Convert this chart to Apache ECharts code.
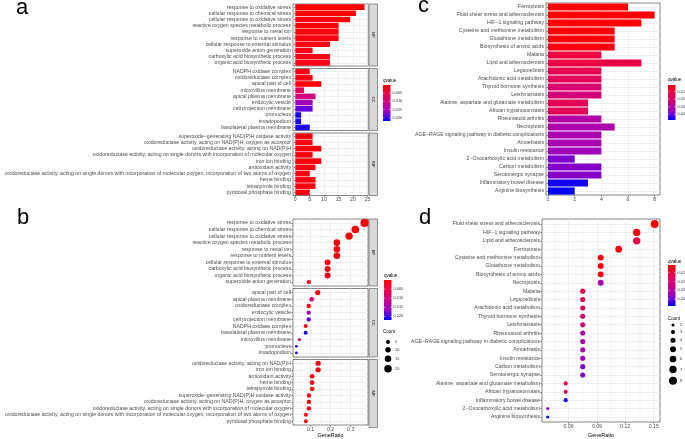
<!DOCTYPE html>
<html>
<head>
<meta charset="utf-8">
<script src="https://cdn.jsdelivr.net/npm/echarts@6/dist/echarts.min.js"></script>
<style>
html, body { margin: 0; padding: 0; background: #fff; }
#chart { width: 685px; height: 439px; }
</style>
</head>
<body>
<div id="chart"></div>
<script>
// Panel a - GO barplot
const A_BP_TERMS = ['response to oxidative stress', 'cellular response to chemical stress', 'cellular response to oxidative stress', 'reactive oxygen species metabolic process', 'response to metal ion', 'response to nutrient levels', 'cellular response to external stimulus', 'superoxide anion generation', 'carboxylic acid biosynthetic process', 'organic acid biosynthetic process'];
const A_BP_COUNT = [24, 21, 19, 15, 15, 15, 12, 6, 12, 12];
const A_BP_QVALUE = [0.0002, 0.0003, 0.0004, 0.0006, 0.0008, 0.001, 0.0012, 0.0015, 0.0015, 0.0015];

const A_CC_TERMS = ['NADPH oxidase complex', 'oxidoreductase complex', 'apical part of cell', 'microvillus membrane', 'apical plasma membrane', 'endocytic vesicle', 'cell projection membrane', 'pronucleus', 'invadopodium', 'basolateral plasma membrane'];
const A_CC_COUNT = [5, 6, 9, 3, 7, 6, 6, 2, 2, 5];
const A_CC_QVALUE = [0.0015, 0.0015, 0.0005, 0.0065, 0.0095, 0.0155, 0.0185, 0.0212, 0.0212, 0.021];

const A_MF_TERMS = ['superoxide\u2212generating NAD(P)H oxidase activity', 'oxidoreductase activity, acting on NAD(P)H, oxygen as acceptor', 'oxidoreductase activity, acting on NAD(P)H', 'oxidoreductase activity, acting on single donors with incorporation of molecular oxygen', 'iron ion binding', 'antioxidant activity', 'oxidoreductase activity, acting on single donors with incorporation of molecular oxygen, incorporation of two atoms of oxygen', 'heme binding', 'tetrapyrrole binding', 'pyridoxal phosphate binding'];
const A_MF_COUNT = [6, 6, 9, 6, 9, 7, 5, 7, 7, 5];
const A_MF_QVALUE = [0.001, 0.001, 0.0008, 0.001, 0.0008, 0.001, 0.0012, 0.001, 0.001, 0.0012];

// Panel b - GO dotplot
const B_BP_TERMS = ['response to oxidative stress', 'cellular response to chemical stress', 'cellular response to oxidative stress', 'reactive oxygen species metabolic process', 'response to metal ion', 'response to nutrient levels', 'cellular response to external stimulus', 'carboxylic acid biosynthetic process', 'organic acid biosynthetic process', 'superoxide anion generation'];
const B_BP_RATIO = [0.369, 0.323, 0.292, 0.231, 0.231, 0.231, 0.185, 0.185, 0.185, 0.092];
const B_BP_COUNT = [24, 21, 19, 15, 15, 15, 12, 12, 12, 6];
const B_BP_QVALUE = [0.0002, 0.0003, 0.0004, 0.0006, 0.0008, 0.001, 0.0012, 0.0015, 0.0015, 0.0015];

const B_CC_TERMS = ['apical part of cell', 'apical plasma membrane', 'oxidoreductase complex', 'endocytic vesicle', 'cell projection membrane', 'NADPH oxidase complex', 'basolateral plasma membrane', 'microvillus membrane', 'pronucleus', 'invadopodium'];
const B_CC_RATIO = [0.136, 0.106, 0.091, 0.091, 0.091, 0.076, 0.076, 0.045, 0.030, 0.030];
const B_CC_COUNT = [9, 7, 6, 6, 6, 5, 5, 3, 2, 2];
const B_CC_QVALUE = [0.0005, 0.0095, 0.0015, 0.0155, 0.0185, 0.0015, 0.021, 0.0065, 0.0212, 0.0212];

const B_MF_TERMS = ['oxidoreductase activity, acting on NAD(P)H', 'iron ion binding', 'antioxidant activity', 'heme binding', 'tetrapyrrole binding', 'superoxide\u2212generating NAD(P)H oxidase activity', 'oxidoreductase activity, acting on NAD(P)H, oxygen as acceptor', 'oxidoreductase activity, acting on single donors with incorporation of molecular oxygen', 'oxidoreductase activity, acting on single donors with incorporation of molecular oxygen, incorporation of two atoms of oxygen', 'pyridoxal phosphate binding'];
const B_MF_RATIO = [0.138, 0.138, 0.108, 0.108, 0.108, 0.092, 0.092, 0.092, 0.077, 0.077];
const B_MF_COUNT = [9, 9, 7, 7, 7, 6, 6, 6, 5, 5];
const B_MF_QVALUE = [0.0008, 0.0008, 0.001, 0.001, 0.001, 0.001, 0.001, 0.001, 0.0012, 0.0012];

// Panel c - KEGG barplot
const C_TERMS = ['Ferroptosis', 'Fluid shear stress and atherosclerosis', 'HIF\u22121 signaling pathway', 'Cysteine and methionine metabolism', 'Glutathione metabolism', 'Biosynthesis of amino acids', 'Malaria', 'Lipid and atherosclerosis', 'Legionellosis', 'Arachidonic acid metabolism', 'Thyroid hormone synthesis', 'Leishmaniasis', 'Alanine, aspartate and glutamate metabolism', 'African trypanosomiasis', 'Rheumatoid arthritis', 'Necroptosis', 'AGE\u2212RAGE signaling pathway in diabetic complications', 'Amoebiasis', 'Insulin resistance', '2\u2212Oxocarboxylic acid metabolism', 'Carbon metabolism', 'Serotonergic synapse', 'Inflammatory bowel disease', 'Arginine biosynthesis'];
const C_COUNT = [6, 8, 7, 5, 5, 5, 4, 7, 4, 4, 4, 4, 3, 3, 4, 5, 4, 4, 4, 2, 4, 4, 3, 2];
const C_QVALUE = [0.002, 0.0016, 0.002, 0.003, 0.003, 0.0035, 0.0107, 0.0116, 0.013, 0.0144, 0.019, 0.021, 0.014, 0.014, 0.030, 0.0314, 0.0323, 0.0323, 0.0346, 0.0383, 0.0374, 0.0374, 0.046, 0.0475];

// Panel d - KEGG dotplot
const D_TERMS = ['Fluid shear stress and atherosclerosis', 'HIF\u22121 signaling pathway', 'Lipid and atherosclerosis', 'Ferroptosis', 'Cysteine and methionine metabolism', 'Glutathione metabolism', 'Biosynthesis of amino acids', 'Necroptosis', 'Malaria', 'Legionellosis', 'Arachidonic acid metabolism', 'Thyroid hormone synthesis', 'Leishmaniasis', 'Rheumatoid arthritis', 'AGE\u2212RAGE signaling pathway in diabetic complications', 'Amoebiasis', 'Insulin resistance', 'Carbon metabolism', 'Serotonergic synapse', 'Alanine, aspartate and glutamate metabolism', 'African trypanosomiasis', 'Inflammatory bowel disease', '2\u2212Oxocarboxylic acid metabolism', 'Arginine biosynthesis'];
const D_RATIO = [0.151, 0.132, 0.132, 0.113, 0.094, 0.094, 0.094, 0.094, 0.075, 0.075, 0.075, 0.075, 0.075, 0.075, 0.075, 0.075, 0.075, 0.075, 0.075, 0.057, 0.057, 0.057, 0.038, 0.038];
const D_COUNT = [8, 7, 7, 6, 5, 5, 5, 5, 4, 4, 4, 4, 4, 4, 4, 4, 4, 4, 4, 3, 3, 3, 2, 2];
const D_QVALUE = [0.0016, 0.002, 0.0116, 0.002, 0.003, 0.003, 0.0035, 0.0314, 0.0107, 0.013, 0.0144, 0.019, 0.021, 0.030, 0.0323, 0.0323, 0.0346, 0.0374, 0.0374, 0.014, 0.014, 0.046, 0.0383, 0.0475];

// Legend ticks
const GO_Q_TICKS = [0.005, 0.010, 0.015, 0.020];
const KEGG_Q_TICKS = [0.01, 0.02, 0.03, 0.04];
const GO_COUNT_KEYS = [5, 10, 15, 20];
const KEGG_COUNT_KEYS = [2, 3, 4, 5, 6, 7, 8];

// Estilo (ggplot theme_bw)
const FONT = '"Liberation Sans", Arial, sans-serif';
const AXIS_TEXT = '#4D4D4D';
const DARK = '#333333';
const GRID_COLOR = '#EBEBEB';
const Q_COLORS = ['#FF0000', '#E80050', '#CA0089', '#9A00C3', '#0000FF'];
const GO_Q_RANGE = [0, 0.022];
const KEGG_Q_RANGE = [0.0015, 0.0475];
const LABEL_SIZE = 5.2;

const sizeGO = c => 0.5 + 1.565 * Math.sqrt(c);
const sizeKEGG = c => -2 + 3.54 * Math.sqrt(c);

const grids = [], xAxes = [], yAxes = [], seriesList = [], elements = [];

function addFacet(box, xs, showX, xFmt, xName, nameGap) {
    const gi = grids.length;
    grids.push({
        left: box[0], top: box[1], width: box[2] - box[0], height: box[3] - box[1],
        show: true, borderColor: DARK, borderWidth: 0.6, backgroundColor: '#FFFFFF'
    });
    // minor grid lines
    xAxes.push({
        gridIndex: gi, type: 'value', position: 'bottom', min: xs.min, max: xs.max,
        axisLine: { show: false },
        axisTick: { show: false, customValues: xs.minor },
        axisLabel: { show: false, customValues: xs.minor },
        splitLine: { show: true, lineStyle: { color: GRID_COLOR, width: 0.4 } }
    });
    xAxes.push({
        gridIndex: gi, type: 'value', position: 'bottom', min: xs.min, max: xs.max,
        axisLine: { show: false },
        axisTick: { show: showX, length: 1.6, customValues: xs.major, lineStyle: { color: DARK, width: 0.6 } },
        axisLabel: { show: showX, customValues: xs.major, margin: 2, fontSize: LABEL_SIZE, color: AXIS_TEXT, fontFamily: FONT, formatter: xFmt },
        splitLine: { show: true, lineStyle: { color: GRID_COLOR, width: 0.8 } },
        name: xName || '', nameLocation: 'middle', nameGap: nameGap || 0,
        nameTextStyle: { fontSize: 5.4, color: '#000', fontFamily: FONT, verticalAlign: 'top' }
    });
    return { gi: gi, xi: xAxes.length - 1 };
}

function addBarFacet(box, terms, counts, qvals, xs, showX) {
    const f = addFacet(box, xs, showX, v => String(v));
    yAxes.push({
        gridIndex: f.gi, type: 'category', inverse: true, data: terms,
        axisLine: { show: false },
        axisTick: { show: true, alignWithLabel: true, interval: 0, length: 1.6, lineStyle: { color: DARK, width: 0.6 } },
        axisLabel: { interval: 0, margin: 2, fontSize: LABEL_SIZE, color: AXIS_TEXT, fontFamily: FONT },
        splitLine: { show: true, alignWithLabel: true, interval: 0, lineStyle: { color: GRID_COLOR, width: 0.8 } }
    });
    seriesList.push({
        type: 'bar', xAxisIndex: f.xi, yAxisIndex: yAxes.length - 1,
        barWidth: '90%', encode: { x: 0, y: 1 },
        data: counts.map((c, i) => [c, i, qvals[i]])
    });
}

function addDotFacet(box, terms, ratios, counts, qvals, xs, showX, xFmt, sizeFn, nameGap) {
    const f = addFacet(box, xs, showX, xFmt, showX ? 'GeneRatio' : '', nameGap);
    const rows = terms.map((t, i) => i + 1);
    yAxes.push({
        gridIndex: f.gi, type: 'value', inverse: true, min: 0.4, max: terms.length + 0.6,
        axisLine: { show: false },
        axisTick: { show: true, length: 1.6, customValues: rows, lineStyle: { color: DARK, width: 0.6 } },
        axisLabel: { customValues: rows, formatter: v => terms[Math.round(v) - 1], margin: 2, fontSize: LABEL_SIZE, color: AXIS_TEXT, fontFamily: FONT },
        splitLine: { show: true, lineStyle: { color: GRID_COLOR, width: 0.8 } }
    });
    seriesList.push({
        type: 'scatter', xAxisIndex: f.xi, yAxisIndex: yAxes.length - 1,
        data: ratios.map((r, i) => [r, i + 1, qvals[i], counts[i]]),
        symbolSize: v => sizeFn(v[3]),
        itemStyle: { opacity: 1 }
    });
}

function addStrip(x, box, label) {
    elements.push({
        type: 'rect', shape: { x: x, y: box[1], width: 8.5, height: box[3] - box[1] },
        style: { fill: '#D9D9D9', stroke: DARK, lineWidth: 0.5 }
    });
    elements.push({
        type: 'text', x: x + 4.25, y: (box[1] + box[3]) / 2, rotation: -Math.PI / 2,
        style: { text: label, fontSize: 4.3, fill: '#1A1A1A', fontFamily: FONT, align: 'center', verticalAlign: 'middle' }
    });
}

function addQLegend(x, titleY, top, h, range, ticks, fmt) {
    elements.push({
        type: 'text', x: x, y: titleY,
        style: { text: 'qvalue', fontSize: 4.5, fill: '#000', fontFamily: FONT, align: 'left', verticalAlign: 'middle' }
    });
    elements.push({
        type: 'rect', shape: { x: x, y: top, width: 7.5, height: h },
        style: {
            fill: new echarts.graphic.LinearGradient(0, 0, 0, 1,
                Q_COLORS.map((c, i) => ({ offset: i / (Q_COLORS.length - 1), color: c })))
        }
    });
    ticks.forEach(t => {
        const y = top + (t - range[0]) / (range[1] - range[0]) * h;
        elements.push({ type: 'line', shape: { x1: x, y1: y, x2: x + 1.5, y2: y }, style: { stroke: '#fff', lineWidth: 0.5 } });
        elements.push({ type: 'line', shape: { x1: x + 6, y1: y, x2: x + 7.5, y2: y }, style: { stroke: '#fff', lineWidth: 0.5 } });
        elements.push({
            type: 'text', x: x + 9.5, y: y,
            style: { text: fmt(t), fontSize: 3.9, fill: '#333', fontFamily: FONT, align: 'left', verticalAlign: 'middle' }
        });
    });
}

function addCountLegend(x, titleY, firstY, keys, sizeFn, gap, labelX) {
    elements.push({
        type: 'text', x: x, y: titleY,
        style: { text: 'Count', fontSize: 4.5, fill: '#000', fontFamily: FONT, align: 'left', verticalAlign: 'middle' }
    });
    let y = firstY;
    keys.forEach((k, i) => {
        if (i > 0) y += (sizeFn(keys[i - 1]) + sizeFn(k)) / 2 + gap;
        elements.push({ type: 'circle', shape: { cx: x + 5, cy: y, r: sizeFn(k) / 2 }, style: { fill: '#000' } });
        elements.push({
            type: 'text', x: labelX, y: y,
            style: { text: String(k), fontSize: 3.9, fill: '#333', fontFamily: FONT, align: 'left', verticalAlign: 'middle' }
        });
    });
}

function addLetter(txt, x, y) {
    elements.push({
        type: 'text', x: x, y: y,
        style: { text: txt, fontSize: 22, fill: '#000', fontFamily: FONT, align: 'left', verticalAlign: 'middle' }
    });
}

// Painel a
const A_X = { min: -0.8, max: 25.2, major: [0, 5, 10, 15, 20, 25], minor: [2.5, 7.5, 12.5, 17.5, 22.5] };
const A_BOX = [[293, 4, 368, 66], [293, 68.5, 368, 130.5], [293, 133, 368, 195.5]];
addBarFacet(A_BOX[0], A_BP_TERMS, A_BP_COUNT, A_BP_QVALUE, A_X, false);
addBarFacet(A_BOX[1], A_CC_TERMS, A_CC_COUNT, A_CC_QVALUE, A_X, false);
addBarFacet(A_BOX[2], A_MF_TERMS, A_MF_COUNT, A_MF_QVALUE, A_X, true);

// Painel b
const B_X = { min: 0.013, max: 0.386, major: [0.1, 0.2, 0.3], minor: [0.05, 0.15, 0.25, 0.35] };
const B_BOX = [[293, 219, 368, 286], [293, 288.5, 368, 357], [293, 359.5, 368, 427.5]];
const fmt1 = v => v.toFixed(1);
addDotFacet(B_BOX[0], B_BP_TERMS, B_BP_RATIO, B_BP_COUNT, B_BP_QVALUE, B_X, false, fmt1, sizeGO);
addDotFacet(B_BOX[1], B_CC_TERMS, B_CC_RATIO, B_CC_COUNT, B_CC_QVALUE, B_X, false, fmt1, sizeGO);
addDotFacet(B_BOX[2], B_MF_TERMS, B_MF_RATIO, B_MF_COUNT, B_MF_QVALUE, B_X, true, fmt1, sizeGO, 8);

// Painel c
const C_X = { min: -0.15, max: 8.4, major: [0, 2, 4, 6, 8], minor: [1, 3, 5, 7] };
addBarFacet([546, 3, 660, 195], C_TERMS, C_COUNT, C_QVALUE, C_X, true);

// Painel d
const D_X = { min: 0.032, max: 0.1566, major: [0.06, 0.09, 0.12, 0.15], minor: [0.045, 0.075, 0.105, 0.135] };
addDotFacet([542, 219, 660, 423], D_TERMS, D_RATIO, D_COUNT, D_QVALUE, D_X, true, v => v.toFixed(2), sizeKEGG, 11);

// Faixas BP / CC / MF
['BP', 'CC', 'MF'].forEach((s, i) => { addStrip(369, A_BOX[i], s); addStrip(369, B_BOX[i], s); });

// Legendas
const fmt3 = v => v.toFixed(3);
const fmt2 = v => v.toFixed(2);
addQLegend(383, 81, 85, 36, GO_Q_RANGE, GO_Q_TICKS, fmt3);
addQLegend(384, 276, 280, 40, GO_Q_RANGE, GO_Q_TICKS, fmt3);
addCountLegend(383, 332, 342, GO_COUNT_KEYS, sizeGO, 3, 395);
addQLegend(668, 80, 85, 35, KEGG_Q_RANGE, KEGG_Q_TICKS, fmt2);
addQLegend(668, 262, 265, 41, KEGG_Q_RANGE, KEGG_Q_TICKS, fmt2);
addCountLegend(668, 319, 325, KEGG_COUNT_KEYS, sizeKEGG, 3.5, 680);

// Letras dos painéis
addLetter('a', 16, 8);
addLetter('b', 17, 218);
addLetter('c', 418, 6);
addLetter('d', 419, 218);

const chart = echarts.init(document.getElementById('chart'));
chart.setOption({
    animation: false,
    backgroundColor: '#FFFFFF',
    grid: grids,
    xAxis: xAxes,
    yAxis: yAxes,
    visualMap: [
        { type: 'continuous', show: false, dimension: 2, min: GO_Q_RANGE[0], max: GO_Q_RANGE[1], seriesIndex: [0, 1, 2, 3, 4, 5], inRange: { color: Q_COLORS } },
        { type: 'continuous', show: false, dimension: 2, min: KEGG_Q_RANGE[0], max: KEGG_Q_RANGE[1], seriesIndex: [6, 7], inRange: { color: Q_COLORS } }
    ],
    series: seriesList,
    graphic: { elements: elements }
});
</script>
</body>
</html>
